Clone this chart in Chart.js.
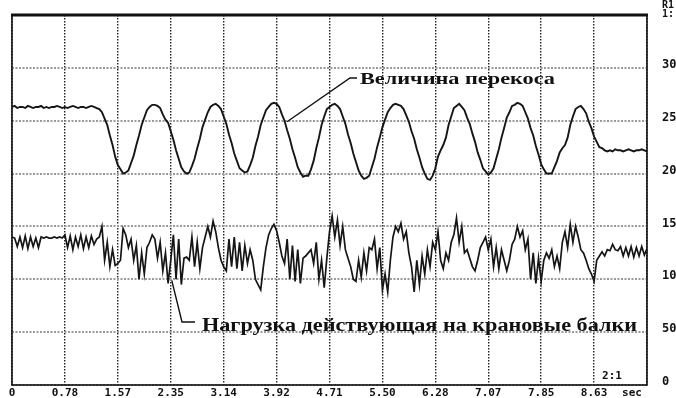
<!DOCTYPE html>
<html><head><meta charset="utf-8">
<script src="https://cdn.jsdelivr.net/npm/chart.js@4"></script>
<style>html,body{margin:0;padding:0;background:#fff;overflow:hidden}</style>
</head><body>
<canvas id="c" width="676" height="398"></canvas>
<script>
const sampleStep = 0.03925; // seconds per sample
const xTickStep = 0.785;
const xTickLabels = ['0','0.78','1.57','2.35','3.14','3.92','4.71','5.50','6.28','7.07','7.85','8.63','sec'];
const yTickValues = [0,50,100,150,200,250,300];
const yTickLabels = ['0','50','100','150','200','250','300'];
const skewLabel = 'Величина перекоса';
const loadLabel = 'Нагрузка действующая на крановые балки';

const skewValues = [
263,264,262,263,263,262,264,263,262,263,
263,264,262,263,262,263,263,264,263,262,
263,262,263,264,263,262,263,263,262,263,
264,263,262,261,
258,252,246,236,227,216,208,204,200,201,203,210,217,227,236,246,253,260,263,265,
265,264,262,256,251,248,240,232,222,214,206,202,200,201,207,214,224,233,244,251,
258,263,265,266,264,261,254,247,237,229,219,212,205,203,201,202,208,215,226,235,
246,253,260,263,266,267,266,263,256,250,241,233,223,215,206,201,197,198,198,204,
212,224,234,246,254,261,263,265,266,264,261,254,247,237,229,219,211,203,198,195,
196,198,206,214,225,234,244,251,258,262,265,266,265,264,261,255,249,240,233,223,
215,206,200,195,194,198,205,216,222,227,234,246,254,262,264,266,263,260,253,247,
238,230,220,213,205,202,199,201,205,214,223,234,243,253,258,264,265,267,266,264,
258,252,243,236,226,218,209,204,200,200,200,206,212,220,224,227,234,246,254,261,
263,264,261,257,249,243,235,230,225,224,222,221,
222,221,223,222,222,221,222,223,222,221,222,222,223,222,221
];

const loadValues = [
140,139,131,140,130,141,129,140,131,139,130,140,
139,140,139,139,140,139,140,139,
142,130,141,128,140,131,142,129,140,130,141,133,138,
140,150,118,135,112,128,113,115,118,
148,142,130,138,118,132,100,125,105,130,
135,142,138,120,135,108,125,96,
118,142,100,138,95,
120,121,118,
140,112,135,110,
130,140,
150,140,155,145,
130,118,112,108,
138,112,140,110,135,108,132,115,128,
118,100,95,90,
112,130,142,148,152,
146,135,122,115,
138,100,132,98,128,96,120,
122,125,128,
115,135,100,118,92,120,
145,160,
140,156,132,150,128,120,112,100,98,118,
102,125,108,130,128,138,110,130,90,105,
88,118,140,150,145,153,138,145,125,112,
88,118,95,122,105,128,112,135,128,145,
118,110,125,118,135,142,158,135,150,125,
128,120,112,108,118,130,135,140,128,138,
112,130,110,128,118,108,118,133,138,150,
140,146,128,138,100,125,96,120,98,118,
125,120,128,112,122,110,135,145,130,152,
135,150,140,128,125,118,110,105,98,118,
122,126,122,128,127,133,128,127,131,122,
130,122,131,121,130,122,131,123,129
];

const toPoints = arr => arr.map((v, i) => ({x: i * sampleStep, y: v}));

function stretchText(ctx, text, left, baseline, targetW, font) {
  ctx.font = font;
  const w = ctx.measureText(text).width;
  ctx.save();
  ctx.translate(left, baseline);
  ctx.scale(targetW / w, 1);
  ctx.textAlign = 'left';
  ctx.textBaseline = 'alphabetic';
  ctx.fillText(text, 0, 0);
  ctx.restore();
}

const overlay = {
  id: 'overlay',
  afterDraw(chart) {
    const {ctx, chartArea: a, scales: {x, y}} = chart;
    ctx.save();
    ctx.setLineDash([]);
    ctx.strokeStyle = '#111';
    ctx.lineWidth = 1.6;
    ctx.strokeRect(a.left, a.top, a.right - a.left, a.bottom - a.top);
    ctx.lineWidth = 3;
    ctx.beginPath(); ctx.moveTo(a.left - 1, a.top); ctx.lineTo(a.right + 1, a.top); ctx.stroke();

    ctx.fillStyle = '#111';
    ctx.font = 'bold 11px "DejaVu Sans Mono"';
    ctx.textAlign = 'center';
    ctx.textBaseline = 'alphabetic';
    xTickLabels.forEach((t, k) => {
      let px = x.getPixelForValue(k * xTickStep);
      if (k === xTickLabels.length - 1) px -= 15;
      ctx.fillText(t, px, 396);
    });
    ctx.textAlign = 'left';
    ctx.textBaseline = 'middle';
    ctx.font = 'bold 12px "DejaVu Sans Mono"';
    yTickValues.forEach((v, k) => {
      ctx.fillText(yTickLabels[k], a.right + 15, y.getPixelForValue(v) - 3);
    });
    ctx.font = 'bold 10px "DejaVu Sans Mono"';
    ctx.fillText('R1', a.right + 15, 5);
    ctx.fillText('1:', a.right + 15, 14);
    ctx.textAlign = 'center';
    ctx.font = 'bold 11px "DejaVu Sans Mono"';
    ctx.fillText('2:1', a.right - 35, a.bottom - 9);

    // annotations
    ctx.lineWidth = 1.4;
    ctx.strokeStyle = '#111';
    ctx.beginPath();
    ctx.moveTo(x.getPixelForValue(4.08), y.getPixelForValue(249));
    ctx.lineTo(350, 78); ctx.lineTo(357, 78);
    ctx.stroke();
    ctx.beginPath();
    ctx.moveTo(x.getPixelForValue(2.37), y.getPixelForValue(99));
    ctx.lineTo(182, 322); ctx.lineTo(195, 322);
    ctx.stroke();
    ctx.fillStyle = '#111';
    stretchText(ctx, skewLabel, 360, 84, 195, 'bold 17px "Liberation Serif"');
    stretchText(ctx, loadLabel, 202, 331, 435, 'bold 18px "Liberation Serif"');
    ctx.restore();
  }
};

new Chart(document.getElementById('c'), {
  type: 'line',
  data: {
    datasets: [
      {label: skewLabel, data: toPoints(skewValues), borderColor: '#151515', borderWidth: 1.9, pointRadius: 0, tension: 0},
      {label: loadLabel, data: toPoints(loadValues), borderColor: '#151515', borderWidth: 1.7, pointRadius: 0, tension: 0}
    ]
  },
  options: {
    responsive: false,
    animation: false,
    layout: {padding: {left: 12, right: 29, top: 15, bottom: 13}},
    plugins: {legend: {display: false}, tooltip: {enabled: false}},
    scales: {
      x: {
        type: 'linear', min: 0, max: 12 * xTickStep,
        afterBuildTicks: s => { s.ticks = xTickLabels.map((_, k) => ({value: k * xTickStep})); },
        ticks: {display: false},
        grid: {color: '#222', lineWidth: 1.4, drawTicks: false},
        border: {display: false, dash: [1.5, 1.5]}
      },
      y: {
        min: 0, max: 350,
        afterBuildTicks: s => { s.ticks = [0,50,100,150,200,250,300,350].map(v => ({value: v})); },
        ticks: {display: false},
        grid: {color: '#9a9a9a', lineWidth: 2, drawTicks: false},
        border: {display: false, dash: [2, 1.5]}
      }
    }
  },
  plugins: [overlay]
});
</script>
</body></html>
